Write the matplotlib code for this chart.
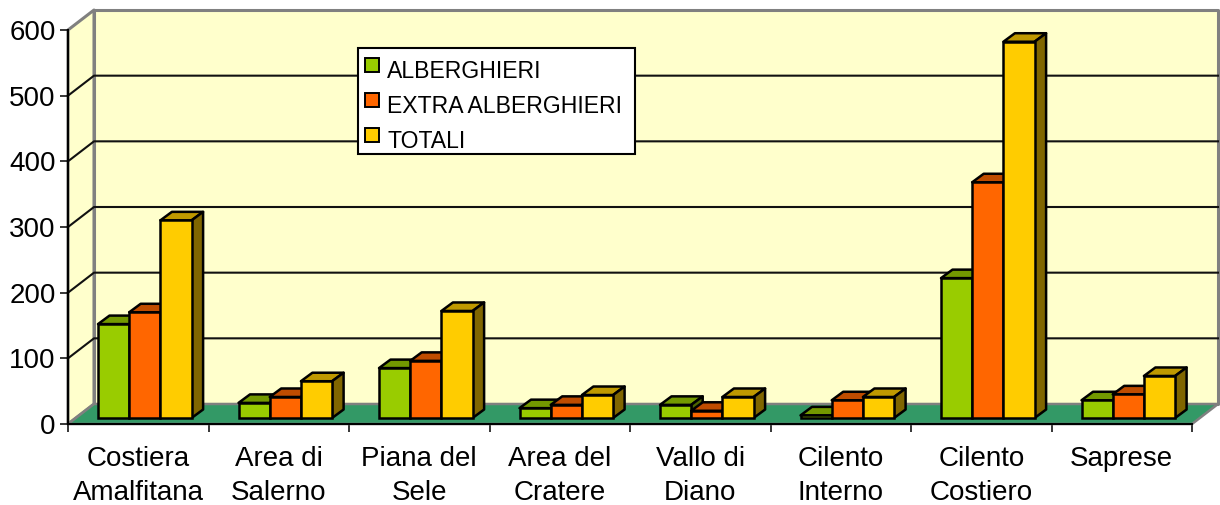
import matplotlib
matplotlib.use("Agg")
import matplotlib.pyplot as plt
from matplotlib.patches import Polygon, Patch, Rectangle
from matplotlib.legend_handler import HandlerPatch

plt.rcParams['font.family'] = ['Liberation Sans', 'DejaVu Sans']

categories = ["Costiera\nAmalfitana", "Area di\nSalerno", "Piana del\nSele", "Area del\nCratere",
              "Vallo di\nDiano", "Cilento\nInterno", "Cilento\nCostiero", "Saprese"]
alberghieri = [143, 23, 76, 15, 20, 4, 213, 27]
extra_alberghieri = [161, 32, 87, 20, 11, 27, 359, 36]
totali = [301, 56, 163, 35, 32, 32, 573, 64]
series_names = ["ALBERGHIERI", "EXTRA ALBERGHIERI", "TOTALI"]
y_ticks = [0, 100, 200, 300, 400, 500, 600]

W, H = 1220, 505
fig = plt.figure(figsize=(W / 100, H / 100), dpi=100, facecolor='white')
L, R, B, T = 68, 1192, 424, 30
ax = fig.add_axes([L / W, (H - B) / H, (R - L) / W, (B - T) / H], facecolor='none')
n = len(categories)
ax.set_xlim(0, n)
ax.set_ylim(0, 600)

px = n / (R - L)           # data units per pixel, x
py = 600 / (B - T)         # data units per pixel, y
WX, WY = 26 * px, 20 * py  # wall depth
BASE = 6 * py              # bar base above the front edge
DX, DY = 11.5 * px, 8.5 * py  # bar depth
BW = 31.2 * px             # bar width
START = 30 * px            # first bar offset in a category
EDGE = 1.8

GRAY = '#808080'
def poly(pts, fc, ec='black', lw=EDGE, z=3):
    ax.add_patch(Polygon(pts, closed=True, facecolor=fc, edgecolor=ec, linewidth=lw,
                         zorder=z, clip_on=False, joinstyle='round'))

# walls and floor
poly([(WX, WY), (n + WX, WY), (n + WX, 600 + WY), (WX, 600 + WY)], '#FFFFCC', GRAY, 2.2, 1)
poly([(0, 0), (WX, WY), (WX, 600 + WY), (0, 600)], '#FFFFCC', GRAY, 2.2, 1)
for v in y_ticks[1:-1]:
    ax.plot([0, WX, n + WX], [v, v + WY, v + WY], color='#111111', lw=1.5, zorder=1.5, clip_on=False)
poly([(0, 0), (n, 0), (n + WX, WY), (WX, WY)], '#339966', GRAY, 1.8, 2)

# bars
colors = [('#99CC00', '#739900', '#4D6600'),
          ('#FF6600', '#BF4C00', '#803300'),
          ('#FFCC00', '#BF9900', '#806600')]
series = [alberghieri, extra_alberghieri, totali]
for i in range(n):
    for s, vals in enumerate(series):
        v = vals[i]
        x0 = i + START + s * BW
        x1 = x0 + BW
        y0 = BASE
        y1 = v + BASE
        front, top, side = colors[s]
        z = 3 + 0.01 * (i * 3 + s)
        poly([(x0, y1), (x1, y1), (x1 + DX, y1 + DY), (x0 + DX, y1 + DY)], top, z=z)
        poly([(x1, y0), (x1 + DX, y0 + DY), (x1 + DX, y1 + DY), (x1, y1)], side, z=z)
        ax.bar(x0, v, width=BW, bottom=y0, align='edge', color=front, edgecolor='black',
               linewidth=EDGE, zorder=z + 0.001, clip_on=False)

# axes
for sp in ('top', 'right'):
    ax.spines[sp].set_visible(False)
for sp in ('left', 'bottom'):
    ax.spines[sp].set_linewidth(1.5)
    ax.spines[sp].set_zorder(5)
ax.set_yticks(y_ticks)
ax.tick_params(axis='y', labelsize=20, length=5.8, width=1.1, pad=3)
ax.set_xticks(range(n + 1))
ax.set_xticklabels([])
ax.tick_params(axis='x', which='major', length=5.5, width=1.1)
ax.set_xticks([i + 0.5 for i in range(n)], minor=True)
ax.set_xticklabels(categories, minor=True, fontsize=20, linespacing=1.42, va='top')
ax.tick_params(axis='x', which='minor', length=0, pad=15.5)

# legend
PT = 0.72  # points per pixel at dpi 100
def swatch(legend, orig_handle, xdescent, ydescent, width, height, fontsize):
    return Rectangle((7 * PT, 5.5 * PT), 13.5 * PT, 14 * PT)

handles = [Patch(facecolor=c[0], edgecolor='black', linewidth=1.4) for c in colors]
leg = ax.legend(handles, series_names, loc='upper left', mode='expand',
                bbox_to_anchor=(358 / W, (H - 154) / H, 277 / W, 106 / H),
                bbox_transform=fig.transFigure,
                handler_map={Patch: HandlerPatch(patch_func=swatch)},
                title=" ", title_fontsize=1,
                fontsize=16.6, fancybox=False, framealpha=1, edgecolor='black',
                borderaxespad=0, borderpad=0.0, labelspacing=0.3,
                handlelength=1.2, handleheight=1.5, handletextpad=0.07)
leg.get_frame().set_linewidth(1.5)
leg.set_zorder(10)

fig.savefig("out.png", dpi=100)
